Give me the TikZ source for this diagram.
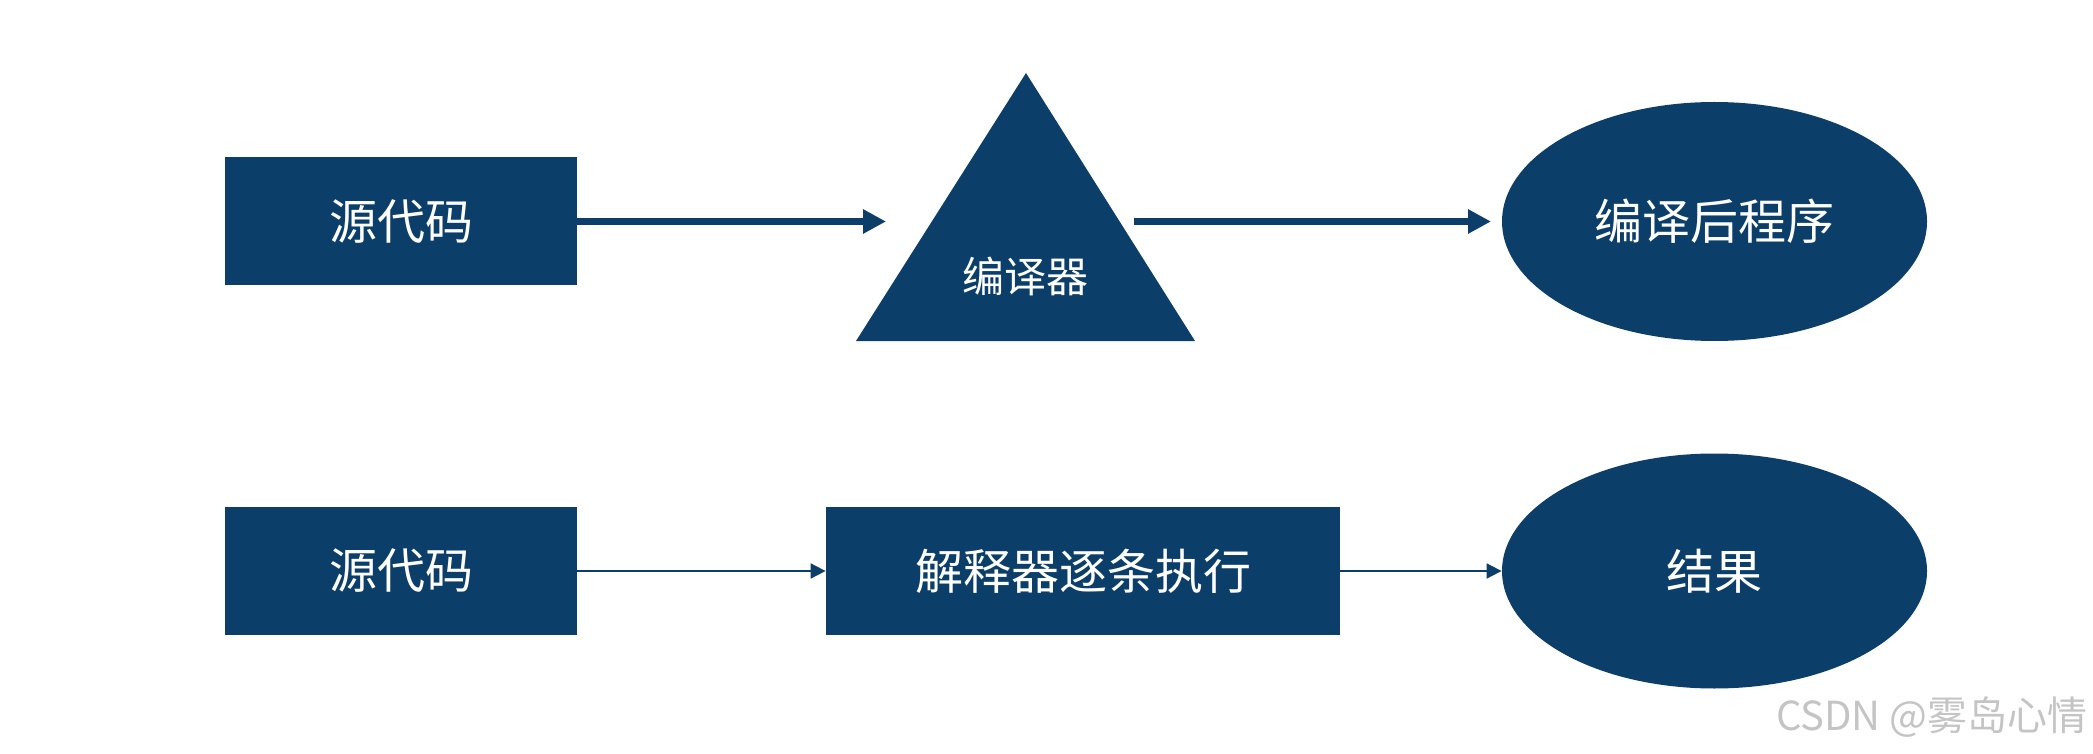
\documentclass[tikz,border=0pt]{standalone}
\usepackage{fontspec}
\setmainfont{Noto Sans CJK SC}
\usetikzlibrary{arrows.meta,shapes.geometric}
\definecolor{navy}{RGB}{11,63,106}
\definecolor{wm}{RGB}{196,196,196}
\tikzset{
  box/.style={fill=navy,draw=none,text=white,inner sep=0pt,font=\fontsize{24}{28}\selectfont},
  oval/.style={ellipse,fill=navy,draw=none,text=white,inner sep=0pt,font=\fontsize{24}{28}\selectfont},
  bigarrow/.style={draw=navy,line width=3.85pt,-{Triangle[length=11.5pt,width=11.5pt]}},
  thinarrow/.style={draw=navy,line width=0.9pt,-{Triangle[length=7.5pt,width=7.5pt]}},
}
\begin{document}
\begin{tikzpicture}[x=0.5pt,y=-0.5pt]
\useasboundingbox (0,0) rectangle (2093,754);
% top row
\node[box,minimum width=176pt,minimum height=64pt] (src1) at (401,221.5) {源代码};
\fill[navy] (1026,73) -- (1195,341) -- (856,341) -- cycle;
\node[text=white,inner sep=0pt,font=\fontsize{21}{25}\selectfont] (comp) at (1025,276) {编译器};
\node[oval,minimum width=212.5pt,minimum height=119.5pt] (prog) at (1714.5,221.5) {编译后程序};
\coordinate (t1) at (886,221.5);
\coordinate (s2) at (1134,221.5);
\coordinate (t2) at (1491,221.5);
\draw[bigarrow] (src1.east) -- (t1);
\draw[bigarrow] (s2) -- (t2);
% bottom row
\node[box,minimum width=176pt,minimum height=64pt] (src2) at (401,571) {源代码};
\node[box,minimum width=257pt,minimum height=64pt] (interp) at (1083,571) {解释器逐条执行};
\node[oval,minimum width=212.5pt,minimum height=117.5pt] (res) at (1714.5,571) {结果};
\draw[thinarrow] (src2.east) -- (interp.west);
\draw[thinarrow] (interp.east) -- (res.west);
% watermark
\node[anchor=east,text=wm,inner sep=0pt,font=\fontsize{20}{24}\selectfont] (wmk) at (2088,717) {CSDN @雾岛心情};
\end{tikzpicture}
\end{document}
